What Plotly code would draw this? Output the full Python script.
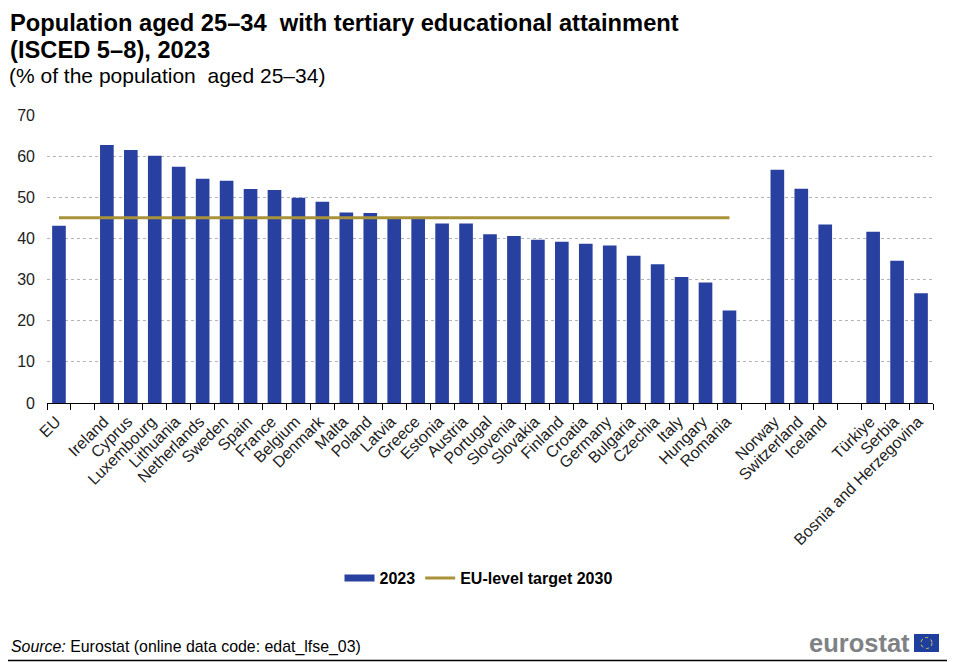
"""Population aged 25-34 with tertiary attainment, 2023 (Eurostat bar chart)."""

import plotly.graph_objects as go

# Blank slots separate the EU, member states and the non-EU groups
COUNTRIES = [
    "EU", " ", "Ireland", "Cyprus", "Luxembourg", "Lithuania", "Netherlands",
    "Sweden", "Spain", "France", "Belgium", "Denmark", "Malta", "Poland",
    "Latvia", "Greece", "Estonia", "Austria", "Portugal", "Slovenia",
    "Slovakia", "Finland", "Croatia", "Germany", "Bulgaria", "Czechia",
    "Italy", "Hungary", "Romania", "  ", "Norway", "Switzerland", "Iceland",
    "   ", "Türkiye", "Serbia", "Bosnia and Herzegovina",
]
VALUES_2023 = [
    43.1, None, 62.7, 61.5, 60.1, 57.4, 54.5, 54.0, 52.0, 51.8, 49.9, 48.9,
    46.3, 46.2, 45.2, 44.7, 43.6, 43.6, 41.0, 40.6, 39.7, 39.2, 38.7, 38.3,
    35.8, 33.7, 30.6, 29.3, 22.5, None, 56.7, 52.1, 43.4, None, 41.6, 34.6,
    26.7,
]
# The target line runs from EU to Romania only
TARGET_COUNTRIES = COUNTRIES[:29]
TARGET_VALUES = [45] * 29

BAR_COLOR = "#28409F"
LINE_COLOR = "#A8923A"
FONT = "Liberation Sans"

# The page body adds 8px top and left, so the figure height is cut by that much
PAGE_OFFSET = 8
W, H = 955, 662 - PAGE_OFFSET
PLOT_L, PLOT_R, PLOT_T, PLOT_B = 47, 933, 115, 403


def px(x):
    """Window pixel x to paper coordinate."""
    return (x - PLOT_L) / (PLOT_R - PLOT_L)


def py(y):
    """Window pixel y to paper coordinate."""
    return (PLOT_B - y) / (PLOT_B - PLOT_T)


fig = go.Figure()
fig.add_trace(go.Bar(x=COUNTRIES, y=VALUES_2023, name="2023", showlegend=False,
                     marker=dict(color=BAR_COLOR, line_width=0), width=0.57))
# Empty trace for the legend only, so the swatch is a wide flat band like the reference
fig.add_trace(go.Scatter(x=COUNTRIES[1:2], y=VALUES_2023[1:2], name="2023",
                         mode="lines", line=dict(color=BAR_COLOR, width=7)))
fig.add_trace(go.Scatter(x=TARGET_COUNTRIES, y=TARGET_VALUES, name="EU-level target 2030",
                         mode="lines", line=dict(color=LINE_COLOR, width=3)))

texts = [
    (8, 23, "<b>Population aged 25–34  with tertiary educational attainment</b>", 23.7, "#000000"),
    (8, 50, "<b>(ISCED 5–8), 2023</b>", 23.7, "#000000"),
    (7, 76, "(% of the population  aged 25–34)", 21, "#000000"),
    (9, 647, "<i>Source:</i> Eurostat (online data code: edat_lfse_03)", 15.9, "#000000"),
]
annotations = [
    dict(x=px(x), y=py(y), text=t, xref="paper", yref="paper", xanchor="left",
         yanchor="middle", showarrow=False, font=dict(size=s, color=c, family=FONT))
    for x, y, t, s, c in texts
]
annotations.append(dict(x=px(912), y=py(643), text="<b>eurostat</b>", xref="paper", yref="paper",
                        xanchor="right", yanchor="middle", showarrow=False,
                        font=dict(size=25.5, color="#7F8285", family=FONT)))

shapes = [
    dict(type="line", xref="paper", yref="paper", x0=px(0), x1=px(955), y0=py(660.5), y1=py(660.5),
         line=dict(color="#000000", width=1.5)),
    dict(type="rect", xref="paper", yref="paper", x0=px(914), x1=px(939), y0=py(634), y1=py(652),
         fillcolor="#1F3F9E", line_width=0),
    dict(type="circle", xref="paper", yref="paper", x0=px(921), x1=px(932), y0=py(637.5), y1=py(648.5),
         line=dict(color="#E8D44A", width=1, dash="dot")),
]

fig.update_layout(
    width=W, height=H,
    margin=dict(l=PLOT_L - PAGE_OFFSET, r=W + PAGE_OFFSET - PLOT_R,
                t=PLOT_T - PAGE_OFFSET, b=H + PAGE_OFFSET - PLOT_B),
    paper_bgcolor="white", plot_bgcolor="white",
    font=dict(family=FONT, color="#222222", size=16),
    annotations=annotations, shapes=shapes,
    legend=dict(orientation="h", x=px(478.5), xanchor="center", y=py(578), yanchor="middle",
                font=dict(size=16, color="#000000", family=FONT, weight="bold"),
                itemwidth=30, bgcolor="rgba(0,0,0,0)"),
)
fig.update_xaxes(type="category", categoryorder="array", categoryarray=COUNTRIES,
                 tickson="boundaries", ticks="outside", ticklen=6, tickcolor="#000000",
                 showline=True, linecolor="#000000", linewidth=1, showgrid=False,
                 tickangle=-45, tickfont=dict(size=16, color="#222222"), automargin=False,
                 ticklabelshift=-3, ticklabelstandoff=2)
fig.update_yaxes(range=[0, 70], dtick=10, showgrid=True, gridcolor="#B5B5B5", griddash="dot",
                 gridwidth=1, zeroline=False, tickfont=dict(size=16, color="#222222"),
                 ticks="", automargin=False, ticklabelstandoff=11)

fig.write_html("out.html")
